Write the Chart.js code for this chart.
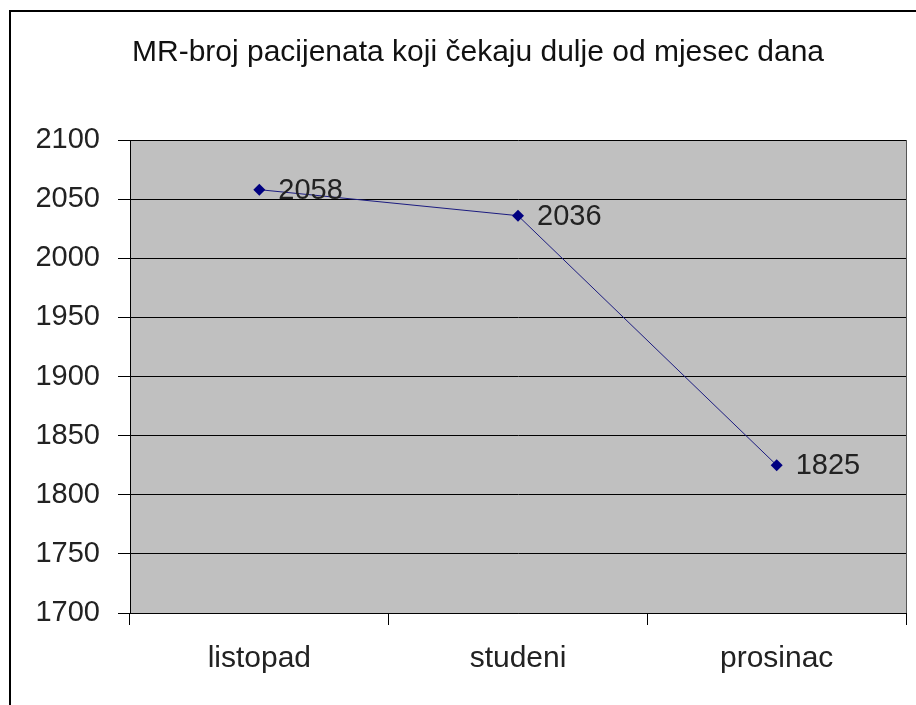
<!DOCTYPE html>
<html>
<head>
<meta charset="utf-8">
<script src="https://cdn.jsdelivr.net/npm/chart.js@4"></script>
<style>
  html, body { margin: 0; padding: 0; background: #fff; }
  #wrap { width: 916px; height: 705px; }
</style>
</head>
<body>
<div id="wrap"><canvas id="chart" width="916" height="705"></canvas></div>
<script>
const months = ['listopad', 'studeni', 'prosinac'];
const patients = [2058, 2036, 1825];
const chartTitle = 'MR-broj pacijenata koji čekaju dulje od mjesec dana';

const FONT = '"Liberation Sans", Arial, sans-serif';

// gray plot area, outer frame and the title (sits a bit right of centre in the original)
const plotBackground = {
    id: 'plotBackground',
    beforeDraw(chart) {
        const ctx = chart.ctx;
        const a = chart.chartArea;
        ctx.save();
        ctx.strokeStyle = '#000';
        ctx.lineWidth = 2;
        ctx.strokeRect(10, 11, 1000, 1000);
        ctx.fillStyle = '#c0c0c0';
        ctx.fillRect(a.left, a.top, a.right - a.left, a.bottom - a.top);
        ctx.font = '30px ' + FONT;
        ctx.fillStyle = '#111';
        ctx.textAlign = 'center';
        ctx.textBaseline = 'middle';
        ctx.fillText(chartTitle, 478, 53);
        ctx.restore();
    },
    afterDraw(chart) {
        const ctx = chart.ctx;
        const a = chart.chartArea;
        ctx.save();
        ctx.strokeStyle = '#555';
        ctx.lineWidth = 1;
        ctx.beginPath();
        ctx.moveTo(a.right + 0.5, a.top);
        ctx.lineTo(a.right + 0.5, a.bottom);
        ctx.stroke();
        ctx.restore();
    }
};

// values written right of each point
const valueLabels = {
    id: 'valueLabels',
    afterDatasetsDraw(chart) {
        const ctx = chart.ctx;
        const meta = chart.getDatasetMeta(0);
        ctx.save();
        ctx.font = '29px ' + FONT;
        ctx.fillStyle = '#222';
        ctx.textBaseline = 'middle';
        meta.data.forEach((pt, i) => {
            ctx.fillText(String(patients[i]), pt.x + 19, pt.y + 1);
        });
        ctx.restore();
    }
};

const ctx = document.getElementById('chart').getContext('2d');
const myChart = new Chart(ctx, {
    type: 'line',
    data: {
        labels: months,
        datasets: [{
            data: patients,
            borderColor: '#1c1c80',
            backgroundColor: '#000080',
            borderWidth: 1,
            pointStyle: 'rectRot',
            pointRadius: 6,
            pointBorderWidth: 0,
            tension: 0
        }]
    },
    options: {
        responsive: false,
        animation: false,
        devicePixelRatio: 1,
        layout: { padding: { left: 10, right: 10, top: 140, bottom: 0 } },
        plugins: {
            legend: { display: false },
            tooltip: { enabled: false },
            title: { display: false }
        },
        scales: {
            x: {
                offset: true,
                grid: { offset: true, drawOnChartArea: false, drawTicks: true, tickLength: 12, color: '#000', lineWidth: 1 },
                border: { color: '#000', width: 1 },
                ticks: {
                    color: '#222',
                    padding: 16,
                    font: { family: FONT, size: 30 }
                },
                afterFit(scale) { scale.height = 92; }
            },
            y: {
                min: 1700,
                max: 2100,
                ticks: {
                    stepSize: 50,
                    color: '#222',
                    padding: 18,
                    font: { family: FONT, size: 29 },
                    callback: (v) => String(v)
                },
                grid: { color: '#000', lineWidth: 1, drawTicks: true, tickLength: 12 },
                border: { color: '#000', width: 1 },
                afterFit(scale) { scale.width = 120; }
            }
        }
    },
    plugins: [plotBackground, valueLabels]
});
</script>
</body>
</html>
